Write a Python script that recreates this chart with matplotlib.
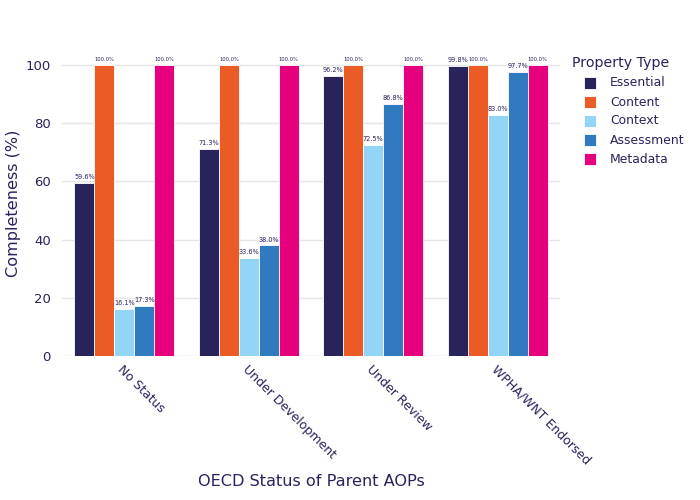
import matplotlib
matplotlib.use("Agg")
import matplotlib.pyplot as plt
from matplotlib.patches import Rectangle
import numpy as np

statuses = ["No Status", "Under Development", "Under Review", "WPHA/WNT Endorsed"]
prop_types = ["Essential", "Content", "Context", "Assessment", "Metadata"]
essential = [59.6, 71.3, 96.2, 99.8]
content = [100.0, 100.0, 100.0, 100.0]
context = [16.1, 33.6, 72.5, 83.0]
assessment = [17.3, 38.0, 86.8, 97.7]
metadata = [100.0, 100.0, 100.0, 100.0]
series = [essential, content, context, assessment, metadata]
colors = ["#29235C", "#EB5B25", "#93D5F6", "#307BBF", "#E6007E"]

txt = "#29235C"
W, H = 700, 500
fig = plt.figure(figsize=(7, 5), dpi=100)
ax = fig.add_axes([62/W, 1-356/H, (560-62)/W, (356-50)/H])

x = np.arange(len(statuses))
w = 0.16
for i, (name, vals, c) in enumerate(zip(prop_types, series, colors)):
    pos = x - 0.4 + w/2 + i*w
    ax.bar(pos, vals, width=w, color=c, edgecolor="white", linewidth=0.6, label=name, zorder=3)
    for p, v in zip(pos, vals):
        fs = 3.7 if v >= 99.95 else 4.7
        ax.text(p, v + 1.0, f"{v:.1f}%", ha="center", va="bottom", fontsize=fs, color=txt, zorder=4)

ax.set_xlim(-0.5, 3.5)
ax.set_ylim(0, 105.2)
ax.set_yticks([0, 20, 40, 60, 80, 100])
ax.yaxis.grid(True, color="#E5E5E5", linewidth=1, zorder=0)
ax.set_axisbelow(True)
for s in ax.spines.values():
    s.set_visible(False)
ax.tick_params(axis="both", length=0, labelsize=9.5, colors=txt)
ax.tick_params(axis="y", pad=8)
ax.set_xticks(x)
ax.set_xticklabels(statuses, rotation=-45, ha="left", va="top", rotation_mode="anchor", fontsize=9)
ax.tick_params(axis="x", pad=5)
fig.text(14/W, 1-203/H, "Completeness (%)", ha="center", va="center", rotation=90,
         fontsize=11.6, color=txt)
fig.text(311/W, 1-482/H, "OECD Status of Parent AOPs", ha="center", va="center", fontsize=11.6, color=txt)

# legend (drawn in figure pixel coordinates)
fig.text(572/W, 1-63/H, "Property Type", ha="left", va="center", fontsize=10.2, color=txt)
sq = 12
for i, (name, c) in enumerate(zip(prop_types, colors)):
    yc = 83 + 19 * i
    fig.patches.append(Rectangle(((590 - sq/2)/W, 1-(yc + sq/2)/H), sq/W, sq/H,
                                 transform=fig.transFigure, facecolor=c, edgecolor="white",
                                 linewidth=0.6))
    fig.text(610/W, 1-yc/H, name, ha="left", va="center", fontsize=8.9, color=txt)

fig.savefig("out.png", dpi=100, facecolor="white")
